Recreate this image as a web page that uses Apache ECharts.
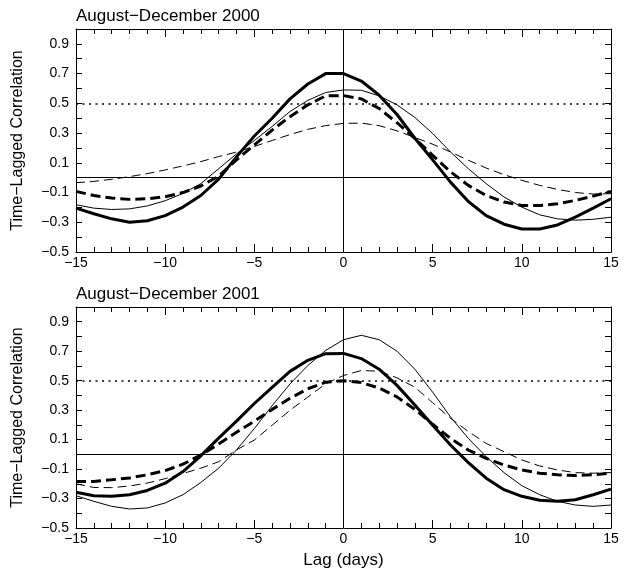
<!DOCTYPE html>
<html>
<head>
<meta charset="utf-8">
<script src="https://cdn.jsdelivr.net/npm/echarts@6.0.0/dist/echarts.min.js"></script>
<style>
  html, body { margin: 0; padding: 0; background: #fff; }
  #main { width: 625px; height: 570px; }
</style>
</head>
<body>
<div id="main"></div>
<script>
// lag in days
const lags = [-15, -14, -13, -12, -11, -10, -9, -8, -7, -6, -5, -4, -3, -2, -1, 0,
  1, 2, 3, 4, 5, 6, 7, 8, 9, 10, 11, 12, 13, 14, 15];

const panelTitles = ['August\u2212December 2000', 'August\u2212December 2001'];

// August-December 2000
const thickSolid2000 = [-0.205, -0.243, -0.277, -0.300, -0.290, -0.255, -0.198, -0.120, -0.010, 0.140, 0.280,
  0.400, 0.530, 0.630, 0.700, 0.700, 0.650, 0.555, 0.425, 0.265, 0.120, -0.030, -0.160, -0.255, -0.313,
  -0.345, -0.345, -0.318, -0.266, -0.205, -0.142];
const thickDash2000 = [-0.092, -0.120, -0.137, -0.146, -0.142, -0.128, -0.100, -0.056, 0.010, 0.120, 0.220,
  0.320, 0.410, 0.490, 0.550, 0.552, 0.530, 0.465, 0.370, 0.265, 0.150, 0.040, -0.052, -0.120, -0.164,
  -0.187, -0.187, -0.176, -0.153, -0.124, -0.092];
const thinSolid2000 = [-0.182, -0.205, -0.214, -0.210, -0.190, -0.155, -0.106, -0.040, 0.060, 0.160, 0.250,
  0.345, 0.445, 0.520, 0.573, 0.590, 0.588, 0.550, 0.490, 0.405, 0.297, 0.173, 0.060, -0.040, -0.130,
  -0.198, -0.250, -0.277, -0.286, -0.280, -0.266];
const thinDash2000 = [-0.034, -0.025, -0.011, 0.007, 0.027, 0.052, 0.079, 0.108, 0.142, 0.172, 0.210,
  0.250, 0.290, 0.325, 0.350, 0.365, 0.367, 0.350, 0.315, 0.270, 0.225, 0.173, 0.117, 0.065, 0.020,
  -0.018, -0.052, -0.079, -0.100, -0.110, -0.108];

// August-December 2001
const thickSolid2001 = [-0.258, -0.281, -0.285, -0.274, -0.245, -0.196, -0.117, -0.010, 0.110, 0.225, 0.345,
  0.455, 0.563, 0.638, 0.683, 0.685, 0.650, 0.578, 0.468, 0.335, 0.198, 0.063, -0.056, -0.162, -0.240,
  -0.285, -0.312, -0.319, -0.308, -0.274, -0.236];
const thickDash2001 = [-0.184, -0.184, -0.173, -0.160, -0.139, -0.110, -0.067, -0.005, 0.070, 0.150, 0.225,
  0.305, 0.380, 0.445, 0.490, 0.500, 0.487, 0.450, 0.390, 0.305, 0.204, 0.108, 0.029, -0.027, -0.072,
  -0.106, -0.128, -0.139, -0.144, -0.139, -0.128];
const thinSolid2001 = [-0.281, -0.319, -0.353, -0.371, -0.364, -0.330, -0.274, -0.191, -0.094, 0.030, 0.175,
  0.330, 0.478, 0.603, 0.705, 0.778, 0.808, 0.778, 0.700, 0.578, 0.422, 0.254, 0.108, -0.016, -0.124,
  -0.213, -0.274, -0.319, -0.344, -0.353, -0.344];
const thinDash2001 = [-0.200, -0.225, -0.226, -0.215, -0.195, -0.165, -0.130, -0.094, -0.050, 0.030, 0.097,
  0.198, 0.299, 0.389, 0.479, 0.535, 0.569, 0.564, 0.519, 0.456, 0.350, 0.245, 0.155, 0.074, 0.018,
  -0.038, -0.079, -0.106, -0.124, -0.128, -0.124];

// labelled y ticks (others are plain ticks)
const yTickLabels = [-0.5, -0.3, -0.1, 0.1, 0.3, 0.5, 0.7, 0.9];
const xTickLabels = [-15, -10, -5, 0, 5, 10, 15];

const FONT = 'Liberation Sans, Arial, Helvetica, sans-serif';
const minus = s => String(s).replace('-', '\u2212');

const panels = [
  [thickSolid2000, thickDash2000, thinSolid2000, thinDash2000],
  [thickSolid2001, thickDash2001, thinSolid2001, thinDash2001]
];
const styles = [
  { width: 3, type: 'solid' },
  { width: 3, type: [10, 5] },
  { width: 1, type: 'solid' },
  { width: 1, type: [9, 5] }
];

const grids = [
  { left: 76, top: 29, width: 535, height: 223 },
  { left: 76, top: 307, width: 535, height: 221 }
];

const axisLine = { show: true, onZero: false, lineStyle: { color: '#000', width: 1 } };

let xAxis = [], yAxis = [], series = [], title = [];

grids.forEach((g, gi) => {
  title.push({
    text: panelTitles[gi], left: 71, top: g.top - 26,
    textStyle: { fontFamily: FONT, fontSize: 17, fontWeight: 'normal', color: '#000' }
  });
  ['bottom', 'top'].forEach((pos, k) => {
    xAxis.push({
      type: 'value', gridIndex: gi, position: pos, min: -15, max: 15, interval: 5,
      axisLine: axisLine,
      axisTick: { show: true, inside: true, length: 8, lineStyle: { color: '#000' } },
      minorTick: { show: true, splitNumber: 5, length: 5, lineStyle: { color: '#000' } },
      splitLine: { show: false },
      axisLabel: {
        show: k === 0, margin: 4, color: '#000', fontFamily: FONT, fontSize: 14,
        formatter: v => xTickLabels.indexOf(v) >= 0 ? minus(v) : ''
      },
      name: (k === 0 && gi === 1) ? 'Lag (days)' : '',
      nameLocation: 'middle', nameGap: 24,
      nameTextStyle: { color: '#000', fontFamily: FONT, fontSize: 17 }
    });
  });
  ['left', 'right'].forEach((pos, k) => {
    yAxis.push({
      type: 'value', gridIndex: gi, position: pos, min: -0.5, max: 1.0, interval: 0.1,
      axisLine: axisLine,
      axisTick: { show: true, inside: true, length: 6, lineStyle: { color: '#000' } },
      splitLine: { show: false },
      axisLabel: {
        show: k === 0, margin: 7, color: '#000', fontFamily: FONT, fontSize: 14,
        formatter: v => yTickLabels.some(t => Math.abs(t - v) < 1e-6) ? minus(v.toFixed(1)) : ''
      },
      name: k === 0 ? 'Time\u2212Lagged Correlation' : '',
      nameLocation: 'middle', nameGap: 50,
      nameTextStyle: { color: '#000', fontFamily: FONT, fontSize: 16 }
    });
  });

  panels[gi].forEach((vals, si) => {
    const s = {
      type: 'line', xAxisIndex: gi * 2, yAxisIndex: gi * 2,
      data: lags.map((x, i) => [x, vals[i]]),
      symbol: 'none', smooth: false, z: 3,
      lineStyle: { color: '#000', width: styles[si].width, type: styles[si].type }
    };
    if (si === 0) {
      s.markLine = {
        silent: true, symbol: 'none', label: { show: false }, animation: false, z: 1,
        lineStyle: { color: '#000', width: 1, type: 'solid' },
        data: [
          { yAxis: 0 },
          { yAxis: 0.5, lineStyle: { type: [2, 4.5], width: 1.5 } },
          { xAxis: 0 }
        ]
      };
    }
    series.push(s);
  });
});

const chart = echarts.init(document.getElementById('main'), null, { renderer: 'canvas' });
chart.setOption({
  animation: false,
  backgroundColor: '#fff',
  title: title,
  grid: grids,
  xAxis: xAxis,
  yAxis: yAxis,
  series: series
});
</script>
</body>
</html>
